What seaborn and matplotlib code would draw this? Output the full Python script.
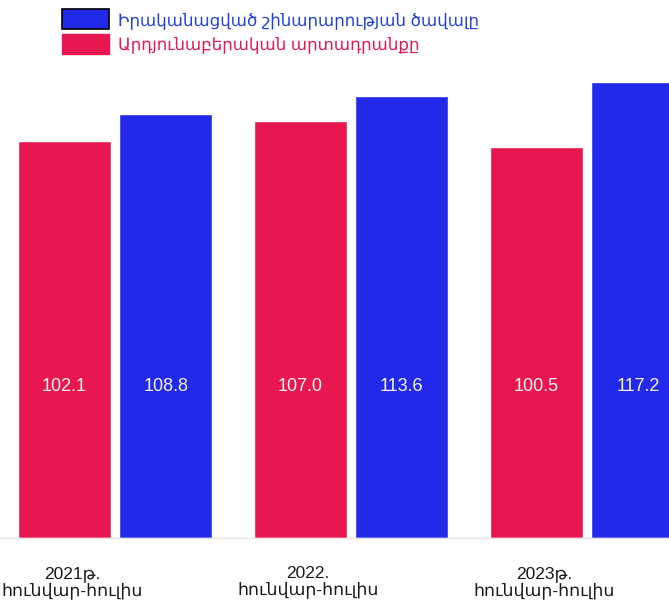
import matplotlib
matplotlib.use("Agg")
import matplotlib.pyplot as plt
import matplotlib.transforms as mtransforms
import seaborn as sns
import pandas as pd
from matplotlib.patches import Patch

# ---- data ----
periods = ["2021թ.\nհունվար-հուլիս", "2022.\nհունվար-հուլիս", "2023թ.\nհունվար-հուլիս"]
series_names = ["Արդյունաբերական արտադրանքը", "Իրականացված շինարարության ծավալը"]
industry = [102.1, 107.0, 100.5]
construction = [108.8, 113.6, 117.2]
value_labels = {series_names[0]: ["102.1", "107.0", "100.5"],
                series_names[1]: ["108.8", "113.6", "117.2"]}

RED = "#E8174F"
BLUE = "#2329E8"

df = pd.DataFrame({
    "period": periods * 2,
    "series": [series_names[0]] * 3 + [series_names[1]] * 3,
    "value": industry + construction,
})

sns.set_theme(style="white")
plt.rcParams["font.family"] = ["Liberation Sans", "DejaVu Sans"]

fig = plt.figure(figsize=(6.69, 6.07), dpi=100)
ax = fig.add_axes([0, 69 / 607, 1, 538 / 607])

sns.barplot(data=df, x="period", y="value", hue="series",
            hue_order=series_names, order=periods,
            palette=[RED, BLUE], width=0.86, gap=0.08,
            saturation=1, errorbar=None, ax=ax, legend=False)

ax.set_xlim(-0.487, 2.347)
ax.set_ylim(0, 138.2)

# value labels inside bars at a fixed height
for cont, name in zip(ax.containers, series_names):
    for bar, lab in zip(cont.patches, value_labels[name]):
        ax.text(bar.get_x() + bar.get_width() / 2, 39.0, lab,
                ha="center", va="center", color="#F4F4F4", fontsize=13)

# axes styling
for s in ["top", "right", "left"]:
    ax.spines[s].set_visible(False)
ax.spines["bottom"].set_color("#E4E4E4")
ax.spines["bottom"].set_linewidth(1.0)
ax.set_yticks([])
ax.set_xlabel("")
ax.set_ylabel("")
ax.tick_params(axis="x", length=0, pad=20, labelsize=12.5, labelcolor="#1A1A1A")
offset = mtransforms.ScaledTranslation(-0.43, 0, fig.dpi_scale_trans)
for lbl in ax.get_xticklabels():
    lbl.set_multialignment("center")
    lbl.set_linespacing(1.05)
    lbl.set_transform(lbl.get_transform() + offset)

# legend (blue first, red second)
handles = [Patch(facecolor=BLUE, edgecolor="black", linewidth=1.2),
           Patch(facecolor=RED, edgecolor=RED)]
leg = fig.legend(handles, [series_names[1], series_names[0]],
                 loc="upper left", bbox_to_anchor=(59 / 669, 1 - 6 / 607),
                 frameon=False, fontsize=12, handlelength=2.8,
                 handleheight=1.45, handletextpad=0.55, labelspacing=0.3,
                 labelcolor=["#2040E0", RED], borderaxespad=0, borderpad=0.2)

fig.savefig("out.png", dpi=100, facecolor="white")
